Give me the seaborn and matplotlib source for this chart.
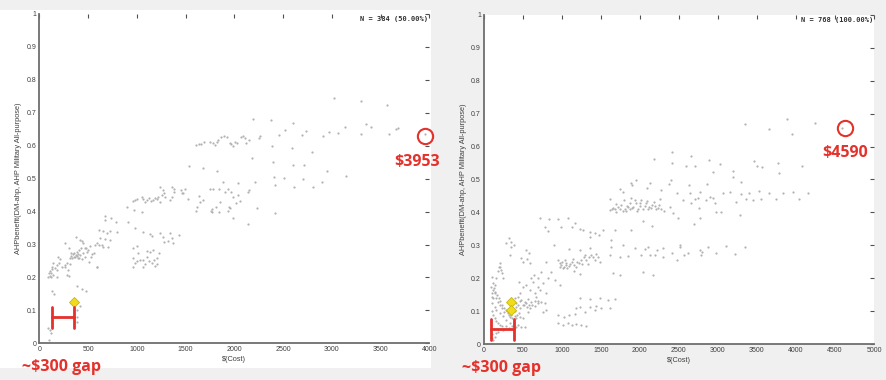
import matplotlib
matplotlib.use("Agg")
import matplotlib.pyplot as plt
from matplotlib.patches import Rectangle
import pandas as pd
import seaborn as sns

# ---- data (cost $, AHP benefit) ----
# left panel: N = 384 (50%)
left_upper = [(3020, 0.745), (3300, 0.735), (3570, 0.725), (2190, 0.68), (2380, 0.678), (2600, 0.67),
              (3350, 0.665), (3400, 0.658), (3140, 0.657), (2740, 0.645), (2520, 0.648), (2970, 0.643),
              (3060, 0.64), (3660, 0.652), (3680, 0.653), (3300, 0.637), (3590, 0.635), (2910, 0.63),
              (2460, 0.633), (2690, 0.633), (3953, 0.635)]
left_row60 = [(1610, 0.602), (1640, 0.604), (1690, 0.61), (1780, 0.607), (1750, 0.612), (1825, 0.612),
              (1835, 0.617), (1865, 0.627), (1895, 0.631), (1925, 0.626), (1955, 0.607), (1970, 0.604),
              (2005, 0.612), (2030, 0.607), (2065, 0.627), (2085, 0.63), (2125, 0.607), (2150, 0.617),
              (2250, 0.622), (2260, 0.63), (1660, 0.606), (1800, 0.603), (1985, 0.600), (2105, 0.622)]
left_mid = [(2390, 0.598), (2595, 0.593), (2185, 0.563), (2800, 0.58), (2400, 0.55), (2600, 0.541),
            (2715, 0.541), (1540, 0.538), (1680, 0.531), (1825, 0.524), (3150, 0.508), (2950, 0.522),
            (2405, 0.504), (2510, 0.501), (2705, 0.498), (2900, 0.49), (2610, 0.476), (2415, 0.48),
            (2805, 0.474), (2210, 0.49), (2155, 0.466), (2140, 0.46)]
left_band45 = [(1880, 0.491), (1940, 0.468), (2040, 0.488), (2035, 0.45), (2060, 0.431), (1990, 0.445),
               (2015, 0.425), (1850, 0.429), (1785, 0.47), (1750, 0.47), (1840, 0.47), (1970, 0.46),
               (1640, 0.448), (1495, 0.47), (1460, 0.455), (1530, 0.437), (1645, 0.429), (1675, 0.435),
               (1615, 0.413), (1605, 0.402), (1765, 0.403), (1775, 0.409), (1810, 0.415), (1840, 0.399),
               (1940, 0.403), (1955, 0.411), (1990, 0.38), (2235, 0.411), (2415, 0.395), (2145, 0.362),
               (1900, 0.46), (1775, 0.4), (1950, 0.415)]
left_band43 = [(965, 0.433), (980, 0.435), (1000, 0.437), (1050, 0.445), (1065, 0.437), (1100, 0.435),
               (1128, 0.44), (1150, 0.432), (1170, 0.435), (1205, 0.437), (1220, 0.445), (1238, 0.476),
               (1255, 0.45), (1270, 0.466), (1290, 0.445), (1360, 0.476), (1365, 0.445), (1345, 0.435),
               (1380, 0.46), (1470, 0.455), (975, 0.405), (1050, 0.399), (895, 0.415), (1185, 0.44),
               (1240, 0.43), (1280, 0.455), (1385, 0.47), (1455, 0.465), (1080, 0.43)]
left_band33 = [(675, 0.387), (677, 0.374), (735, 0.379), (785, 0.369), (610, 0.344), (655, 0.342),
               (690, 0.334), (725, 0.341), (795, 0.337), (620, 0.319), (677, 0.316), (725, 0.314),
               (570, 0.298), (615, 0.298), (655, 0.293), (708, 0.291), (905, 0.369), (980, 0.351),
               (595, 0.233), (640, 0.3), (590, 0.305)]
left_cluster26 = [(265, 0.306), (300, 0.288), (375, 0.322), (415, 0.314), (450, 0.306), (480, 0.288),
                  (500, 0.283), (525, 0.295), (560, 0.273), (530, 0.263), (450, 0.273), (468, 0.261),
                  (435, 0.255), (355, 0.263), (330, 0.273), (390, 0.278), (415, 0.268), (395, 0.258),
                  (375, 0.268), (410, 0.283), (430, 0.288), (490, 0.278), (280, 0.243), (315, 0.241),
                  (265, 0.233), (297, 0.223), (280, 0.207), (308, 0.204), (195, 0.263), (212, 0.255),
                  (205, 0.243), (178, 0.238), (145, 0.243), (126, 0.233), (110, 0.22), (103, 0.212),
                  (116, 0.202), (92, 0.2), (137, 0.207), (157, 0.228), (229, 0.233), (185, 0.202),
                  (178, 0.223), (263, 0.238), (513, 0.248), (588, 0.233), (345, 0.27), (360, 0.275),
                  (365, 0.262), (385, 0.265), (400, 0.27), (340, 0.258), (320, 0.265), (405, 0.26),
                  (120, 0.215), (130, 0.225), (108, 0.205), (540, 0.27), (470, 0.29), (310, 0.26),
                  (440, 0.31)]
left_low = [(126, 0.16), (150, 0.15), (383, 0.175), (434, 0.166), (480, 0.159), (417, 0.114),
            (383, 0.101), (390, 0.081), (383, 0.066), (110, 0.04), (116, 0.032), (103, 0.01), (92, 0.045)]
left_band28 = [(965, 0.288), (998, 0.295), (1015, 0.273), (1032, 0.253), (965, 0.258), (980, 0.243),
               (965, 0.233), (1066, 0.253), (1080, 0.241), (1100, 0.281), (1135, 0.278), (1170, 0.283),
               (1100, 0.263), (1066, 0.233), (1152, 0.243), (1176, 0.253), (1190, 0.235), (1203, 0.258),
               (1230, 0.273), (1060, 0.339), (1135, 0.332), (1237, 0.334), (1265, 0.322), (1278, 0.309),
               (1340, 0.334), (1357, 0.319), (1374, 0.306), (1436, 0.329), (1323, 0.312), (1155, 0.326),
               (1000, 0.25), (1120, 0.25), (1210, 0.24)]

# right panel: N = 768 (100%)
right_upper = [(3880, 0.685), (3350, 0.668), (3655, 0.652), (4240, 0.672), (3955, 0.638), (4590, 0.655),
               (2415, 0.584), (2180, 0.561), (2650, 0.571), (2880, 0.559), (3460, 0.557), (3770, 0.551),
               (2415, 0.551), (2595, 0.541), (2705, 0.541), (3025, 0.547), (3570, 0.537), (3495, 0.541),
               (4080, 0.541), (2940, 0.524), (3195, 0.527), (3785, 0.521)]
right_mid = [(2405, 0.498), (2375, 0.486), (2860, 0.485), (2630, 0.483), (3200, 0.509), (3300, 0.493),
             (1955, 0.498), (1890, 0.49), (1905, 0.483), (2125, 0.49), (1750, 0.47), (1785, 0.463),
             (1615, 0.44), (2095, 0.473), (2265, 0.468), (2470, 0.46), (2640, 0.458), (2765, 0.463),
             (3065, 0.46), (3150, 0.463), (3300, 0.456), (3400, 0.46), (3525, 0.466), (3555, 0.44),
             (3655, 0.458), (3750, 0.44), (3835, 0.46), (3965, 0.463), (4040, 0.44), (4155, 0.46),
             (2555, 0.438), (2660, 0.428), (2760, 0.415), (2850, 0.438), (2960, 0.43), (2980, 0.402),
             (3045, 0.402), (3230, 0.433), (3280, 0.392), (3355, 0.44), (3450, 0.438), (2895, 0.448),
             (2940, 0.443), (2705, 0.44), (2745, 0.443)]
right_band41 = [(1615, 0.407), (1640, 0.412), (1680, 0.409), (1720, 0.418), (1765, 0.423), (1805, 0.412),
                (1850, 0.418), (1880, 0.428), (1915, 0.418), (1955, 0.428), (2000, 0.42), (2040, 0.412),
                (2075, 0.428), (2120, 0.418), (2160, 0.423), (2205, 0.412), (2245, 0.423), (2275, 0.409),
                (2305, 0.405), (1700, 0.402), (1820, 0.405), (1890, 0.443), (1935, 0.438), (2020, 0.438),
                (2095, 0.436), (2180, 0.433), (2255, 0.44), (2385, 0.418), (2425, 0.397), (2490, 0.382),
                (2690, 0.365), (2765, 0.382), (2035, 0.375), (2150, 0.359), (1795, 0.438), (1660, 0.415),
                (1740, 0.41), (1785, 0.405), (1830, 0.42), (1870, 0.41), (1900, 0.415), (1980, 0.41),
                (2060, 0.42), (2100, 0.41), (2140, 0.415), (2190, 0.42), (2230, 0.415), (1960, 0.405),
                (1700, 0.425), (2000, 0.43)]
right_band25 = [(950, 0.256), (975, 0.246), (995, 0.241), (1025, 0.236), (1060, 0.246), (1095, 0.238),
                (1125, 0.251), (1155, 0.241), (1185, 0.236), (1220, 0.246), (1250, 0.256), (1280, 0.266),
                (1315, 0.256), (1350, 0.264), (1380, 0.271), (1420, 0.256), (1465, 0.266), (1485, 0.251),
                (1095, 0.288), (1230, 0.286), (1360, 0.291), (1015, 0.23), (1155, 0.223), (1230, 0.213),
                (975, 0.18), (910, 0.195), (1000, 0.25), (1040, 0.255), (1070, 0.23), (1110, 0.245),
                (1140, 0.26), (1200, 0.25), (1265, 0.245), (1300, 0.27), (1330, 0.245), (1400, 0.265),
                (1440, 0.275), (1050, 0.24), (980, 0.235)]
right_band30 = [(715, 0.382), (780, 0.357), (825, 0.345), (835, 0.379), (950, 0.379), (995, 0.357),
                (1080, 0.382), (1125, 0.357), (1165, 0.367), (1230, 0.349), (1275, 0.347), (1360, 0.342),
                (1420, 0.337), (1360, 0.325), (1530, 0.347), (1635, 0.316), (1680, 0.347), (1785, 0.301),
                (1890, 0.347), (1635, 0.296), (1475, 0.332), (1615, 0.271), (1740, 0.266), (1850, 0.268),
                (1935, 0.291), (2020, 0.271), (2065, 0.288), (2110, 0.294), (2125, 0.271), (2220, 0.286),
                (2295, 0.266), (2415, 0.276), (2470, 0.256), (2510, 0.296), (2615, 0.276), (2765, 0.286),
                (2790, 0.271), (2875, 0.296), (2980, 0.276), (3110, 0.298), (3215, 0.274), (3345, 0.296),
                (2295, 0.291), (1740, 0.21), (2040, 0.22), (2170, 0.21), (1655, 0.217), (2510, 0.3),
                (2800, 0.28), (2200, 0.27), (2560, 0.27)]
right_band10 = [(950, 0.089), (1025, 0.084), (1095, 0.089), (1165, 0.092), (1230, 0.114), (1295, 0.099),
                (1360, 0.114), (1445, 0.116), (1485, 0.14), (1595, 0.134), (1680, 0.136), (1230, 0.14),
                (1360, 0.136), (1080, 0.064), (1125, 0.059), (1185, 0.062), (1250, 0.059), (950, 0.064),
                (1015, 0.059), (1315, 0.056), (1180, 0.109), (1505, 0.109), (1615, 0.109), (1420, 0.104)]
right_corner = [(282, 0.306), (325, 0.321), (354, 0.311), (354, 0.296), (384, 0.301), (333, 0.271),
                (482, 0.261), (504, 0.251), (546, 0.286), (580, 0.276), (597, 0.246), (205, 0.246),
                (196, 0.236), (226, 0.225), (184, 0.223), (162, 0.2), (111, 0.205), (98, 0.175),
                (120, 0.185), (120, 0.165), (141, 0.155), (162, 0.14), (184, 0.129), (205, 0.119),
                (239, 0.109), (265, 0.099), (307, 0.094), (333, 0.084), (367, 0.079), (418, 0.079),
                (461, 0.084), (504, 0.079), (120, 0.14), (111, 0.124), (141, 0.114), (162, 0.104),
                (205, 0.094), (248, 0.086), (290, 0.074), (333, 0.066), (384, 0.062), (439, 0.059),
                (482, 0.054), (525, 0.052), (354, 0.134), (397, 0.14), (439, 0.145), (482, 0.134),
                (525, 0.129), (568, 0.136), (610, 0.129), (653, 0.132), (695, 0.124), (738, 0.129),
                (781, 0.124), (418, 0.114), (469, 0.109), (512, 0.119), (555, 0.114), (597, 0.109),
                (461, 0.155), (504, 0.175), (452, 0.19), (546, 0.18), (597, 0.165), (653, 0.157),
                (695, 0.175), (725, 0.165), (760, 0.185), (794, 0.155), (824, 0.2), (632, 0.19),
                (675, 0.145), (568, 0.099), (760, 0.099), (803, 0.104), (162, 0.033), (141, 0.023),
                (120, 0.013), (184, 0.038), (248, 0.043), (418, 0.054), (130, 0.17), (140, 0.18),
                (150, 0.16), (170, 0.15), (195, 0.14), (215, 0.13), (230, 0.12), (260, 0.11),
                (280, 0.105), (300, 0.1), (320, 0.09), (350, 0.09), (400, 0.085), (430, 0.09),
                (450, 0.095), (100, 0.155), (105, 0.145), (110, 0.1), (125, 0.09), (140, 0.08),
                (160, 0.07), (180, 0.065), (210, 0.06), (240, 0.055), (280, 0.055), (320, 0.05),
                (360, 0.055), (400, 0.1), (420, 0.125), (440, 0.12), (460, 0.13), (500, 0.12),
                (540, 0.125), (580, 0.12), (620, 0.12), (660, 0.115), (700, 0.13), (100, 0.03),
                (110, 0.02), (250, 0.2), (230, 0.215), (215, 0.235), (600, 0.2), (650, 0.21),
                (700, 0.2), (740, 0.22), (800, 0.25), (860, 0.22), (900, 0.3), (560, 0.26)]

left_selected = [(356, 0.126)]
right_selected = [(354, 0.127), (354, 0.104)]

left_best = (3953, 0.63)
right_best = (4633, 0.657)

yticks = [0, 0.1, 0.2, 0.3, 0.4, 0.5, 0.6, 0.7, 0.8, 0.9, 1]
ytick_labels = ['0', '0.1', '0.2', '0.3', '0.4', '0.5', '0.6', '0.7', '0.8', '0.9', '1']
left_xticks = [0, 500, 1000, 1500, 2000, 2500, 3000, 3500, 4000]
right_xticks = [0, 500, 1000, 1500, 2000, 2500, 3000, 3500, 4000, 4500, 5000]

RED = '#e5312b'
GRAY_PT = '#b2b2b2'


def toFrame(*groups):
    pts = [p for g in groups for p in g]
    return pd.DataFrame({"cost": [p[0] for p in pts], "benefit": [p[1] for p in pts]})


def drawPanel(ax, df, sel, xmax, xticks, nText):
    sns.scatterplot(x="cost", y="benefit", data=df, ax=ax, s=2.5, color=GRAY_PT,
                    linewidth=0, marker='o', zorder=2)
    sns.scatterplot(x="cost", y="benefit", data=toFrame(sel), ax=ax, s=26, marker='D',
                    color='#f0dc1e', edgecolor='#c9b60c', linewidth=0.6, zorder=3)
    ax.set_xlim(0, xmax)
    ax.set_ylim(0, 1)
    ax.set_xticks(xticks)
    ax.set_xticklabels([str(t) for t in xticks])
    ax.set_yticks(yticks)
    ax.set_yticklabels(ytick_labels)
    ax.tick_params(direction='in', top=True, right=True, length=3, width=0.8,
                   color='#505050', labelsize=5, labelcolor='#404040', pad=2)
    for s in ['top', 'right']:
        ax.spines[s].set_visible(False)
    for s in ['left', 'bottom']:
        ax.spines[s].set_color('#6e6e6e')
        ax.spines[s].set_linewidth(1.3)
    ax.set_xlabel(r'\$(Cost)', fontsize=5.3, color='#404040', labelpad=2)
    ax.set_ylabel('AHPbenefit(DM-ahp, AHP Military All-purpose)', fontsize=5.3,
                  color='#404040', labelpad=3)
    ax.text(0.997, 0.985, nText, transform=ax.transAxes, ha='right', va='center',
            family='DejaVu Sans Mono', weight='bold', fontsize=5, color='#303030')


def main():
    sns.set_style("white")
    plt.rcParams['font.family'] = ['Liberation Sans', 'DejaVu Sans']

    fig = plt.figure(figsize=(8.86, 3.8), dpi=100, facecolor='#f0f0f0')
    fig.patches.append(Rectangle((0, 12 / 380), 431 / 886, 358 / 380, transform=fig.transFigure,
                                 facecolor='white', edgecolor='none', zorder=-5))

    ax1 = fig.add_axes([39.3 / 886, 36.7 / 380, 390 / 886, 329.3 / 380])
    ax2 = fig.add_axes([483.7 / 886, 35.7 / 380, 390.3 / 886, 329.6 / 380])

    dfLeft = toFrame(left_upper, left_row60, left_mid, left_band45, left_band43,
                     left_band33, left_cluster26, left_low, left_band28)
    dfRight = toFrame(right_upper, right_mid, right_band41, right_band25, right_band30,
                      right_band10, right_corner)

    drawPanel(ax1, dfLeft, left_selected, 4000, left_xticks, 'N = 384 (50.00%)')
    drawPanel(ax2, dfRight, right_selected, 5000, right_xticks, 'N = 768 (100.00%)')

    # red annotations
    ax1.plot([126, 356], [0.079, 0.079], color=RED, lw=2, clip_on=False, zorder=4)
    ax1.plot([126, 126], [0.045, 0.11], color=RED, lw=2, clip_on=False, zorder=4)
    ax1.plot([356, 356], [0.045, 0.11], color=RED, lw=2, clip_on=False, zorder=4)
    ax2.plot([90, 388], [0.047, 0.047], color=RED, lw=2, clip_on=False, zorder=4)
    ax2.plot([90, 90], [0.013, 0.076], color=RED, lw=2, clip_on=False, zorder=4)
    ax2.plot([388, 388], [0.013, 0.076], color=RED, lw=2, clip_on=False, zorder=4)

    ax1.plot([left_best[0]], [left_best[1]], marker='o', ms=11, mfc='none', mec=RED, mew=1.5,
             clip_on=False, zorder=4)
    ax2.plot([right_best[0]], [right_best[1]], marker='o', ms=11, mfc='none', mec=RED, mew=1.5,
             clip_on=False, zorder=4)
    ax1.text(3870, 0.552, r'\$3953', ha='center', va='center', color=RED, fontsize=11.5,
             weight='bold', family='Open Sans', clip_on=False)
    ax2.text(4624, 0.581, r'\$4590', ha='center', va='center', color=RED, fontsize=11.5,
             weight='bold', family='Open Sans', clip_on=False)

    fig.text(61 / 886, 1 - 367 / 380, r'~\$300 gap', ha='center', va='center', color=RED,
             fontsize=11.5, weight='bold', family='Open Sans')
    fig.text(501 / 886, 1 - 368 / 380, r'~\$300 gap', ha='center', va='center', color=RED,
             fontsize=11.5, weight='bold', family='Open Sans')

    plt.savefig("out.png", dpi=100, facecolor=fig.get_facecolor())
    plt.close()


if __name__ == '__main__':
    main()
